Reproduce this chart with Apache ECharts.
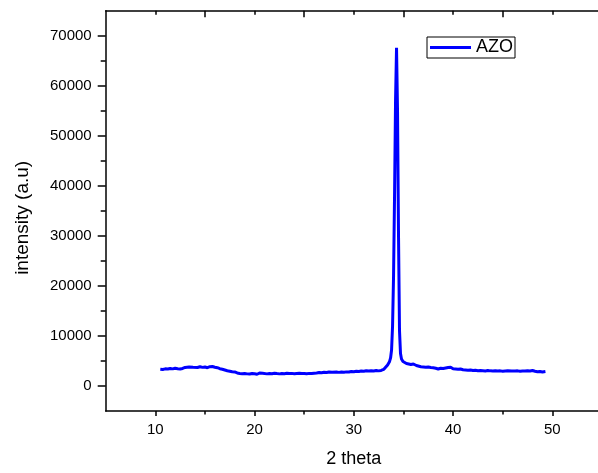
<!DOCTYPE html>
<html>
<head>
<meta charset="utf-8">
<script src="https://cdn.jsdelivr.net/npm/echarts@6/dist/echarts.min.js"></script>
<style>html,body{margin:0;padding:0;background:#fff;overflow:hidden;width:598px;height:473px;}#c{width:602px;height:473px;}</style>
</head>
<body>
<div id="c"></div>
<script>
var seriesName = 'AZO';
var twoTheta = [10.50,10.75,11.00,11.25,11.50,11.75,12.00,12.25,12.50,12.75,13.00,13.20,13.40,13.60,13.80,14.00,14.25,14.50,14.75,15.00,15.25,15.50,15.75,16.00,16.25,16.50,16.75,17.00,17.25,17.50,17.75,18.00,18.25,18.50,18.75,19.00,19.25,19.50,19.75,20.00,20.25,20.50,20.65,20.80,21.00,21.25,21.50,21.75,22.00,22.25,22.50,22.75,23.00,23.25,23.50,23.75,24.00,24.25,24.50,24.75,25.00,25.25,25.50,25.75,26.00,26.25,26.50,26.75,27.00,27.25,27.50,27.65,27.80,28.00,28.25,28.50,28.75,29.00,29.25,29.50,29.75,30.00,30.25,30.50,30.75,31.00,31.25,31.50,31.75,32.00,32.25,32.50,32.75,33.00,33.20,33.40,33.60,33.70,33.80,33.90,34.00,34.10,34.20,34.30,34.40,34.50,34.60,34.70,34.80,34.95,35.10,35.30,35.50,35.75,36.00,36.15,36.30,36.50,36.75,37.00,37.25,37.50,37.75,38.00,38.25,38.50,38.75,39.00,39.25,39.50,39.75,40.00,40.25,40.50,40.75,41.00,41.25,41.50,41.75,42.00,42.25,42.50,42.75,43.00,43.25,43.50,43.75,44.00,44.25,44.50,44.75,45.00,45.25,45.50,45.70,45.90,46.25,46.50,46.75,47.00,47.25,47.50,47.75,48.00,48.25,48.50,48.75,49.00,49.30];
var intensity = [3350,3300,3420,3380,3500,3420,3550,3450,3380,3500,3700,4050,3800,3900,3750,3820,3700,3850,3720,3800,3650,3850,3900,3750,3650,3450,3350,3200,3050,2950,2850,2800,2600,2500,2450,2500,2420,2380,2500,2450,2350,2600,2950,2550,2480,2420,2500,2450,2550,2480,2420,2500,2450,2550,2480,2520,2450,2500,2550,2480,2500,2450,2520,2480,2550,2600,2700,2650,2750,2680,2800,3050,2750,2700,2780,2720,2800,2750,2820,2780,2900,2850,2950,2900,3000,2950,3050,2980,3050,3000,3100,3020,3100,3300,3750,4200,4900,5600,7200,12000,22000,38000,57000,67600,55000,30000,11000,6500,5400,4900,4700,4500,4350,4300,4400,4600,4100,3950,3850,3800,3750,3800,3700,3650,3550,3400,3550,3500,3600,3700,3750,3450,3400,3350,3400,3250,3200,3150,3200,3100,3150,3050,3100,3050,3000,3080,3020,3000,3050,2980,3020,2950,3000,3050,3350,3000,2980,3020,2950,3000,2980,3050,3000,3100,2950,2850,2900,2800,2900];

var xMajorTicks = [10,20,30,40,50];
var xMinorTicks = [15,25,35,45];
var yMajorTicks = [0,10000,20000,30000,40000,50000,60000,70000];
var yMinorTicks = [5000,15000,25000,35000,45000,55000,65000];
var yRightTicks = [11000,27000,43000,59000];

var points = twoTheta.map(function(x, i){ return [x, intensity[i]]; });
var FONT = 'Liberation Sans, Arial, sans-serif';
var lineStyle = {color:'#000', width:1.5};
function plain(v){ return String(v); }

var chart = echarts.init(document.getElementById('c'), null, {renderer:'canvas'});
chart.setOption({
  animation:false,
  backgroundColor:'#fff',
  grid:{left:105.7, top:10.7, right:0, bottom:59, containLabel:false},
  legend:{
    data:[seriesName], left:427, top:37, orient:'horizontal',
    icon:'rect', itemWidth:41, itemHeight:3, itemGap:5,
    borderColor:'#000', borderWidth:1, padding:[1,2,1,3],
    textStyle:{fontFamily:FONT, fontSize:18, color:'#000', lineHeight:19, padding:[0,0,0,0]}
  },
  xAxis:[
    {type:'value', position:'bottom', min:5, max:55,
     name:'2 theta', nameLocation:'middle', nameGap:39,
     nameTextStyle:{fontFamily:FONT, fontSize:18, color:'#000'},
     axisLine:{show:true, onZero:false, lineStyle:lineStyle},
     axisTick:{show:true, inside:false, length:5, customValues:xMajorTicks, lineStyle:lineStyle},
     axisLabel:{show:true, customValues:xMajorTicks, formatter:plain, fontFamily:FONT, fontSize:15, color:'#000', margin:11},
     splitLine:{show:false}},
    {type:'value', position:'bottom', min:5, max:55,
     axisLine:{show:false, onZero:false},
     axisTick:{show:true, inside:false, length:3.5, customValues:xMinorTicks, lineStyle:lineStyle},
     axisLabel:{show:false}, splitLine:{show:false}},
    {type:'value', position:'top', min:5, max:55,
     axisLine:{show:true, onZero:false, lineStyle:lineStyle},
     axisTick:{show:true, inside:true, length:4, customValues:xMajorTicks, lineStyle:lineStyle},
     axisLabel:{show:false}, splitLine:{show:false}},
    {type:'value', position:'top', min:5, max:55,
     axisLine:{show:false, onZero:false},
     axisTick:{show:true, inside:true, length:6.5, customValues:xMinorTicks, lineStyle:lineStyle},
     axisLabel:{show:false}, splitLine:{show:false}}
  ],
  yAxis:[
    {type:'value', position:'left', min:-5000, max:75000,
     name:'intensity (a.u)', nameLocation:'middle', nameGap:73,
     nameTextStyle:{fontFamily:FONT, fontSize:19, color:'#000', padding:[0,14,0,0]},
     axisLine:{show:true, onZero:false, lineStyle:lineStyle},
     axisTick:{show:true, inside:false, length:8, customValues:yMajorTicks, lineStyle:lineStyle},
     axisLabel:{show:true, customValues:yMajorTicks, formatter:plain, fontFamily:FONT, fontSize:15, color:'#000', margin:14},
     splitLine:{show:false}},
    {type:'value', position:'left', min:-5000, max:75000,
     axisLine:{show:false, onZero:false},
     axisTick:{show:true, inside:false, length:5, customValues:yMinorTicks, lineStyle:lineStyle},
     axisLabel:{show:false}, splitLine:{show:false}},
    {type:'value', position:'right', min:-5000, max:75000,
     axisLine:{show:true, onZero:false, lineStyle:lineStyle},
     axisTick:{show:true, inside:true, length:4, customValues:yRightTicks, lineStyle:lineStyle},
     axisLabel:{show:false}, splitLine:{show:false}}
  ],
  series:[{
    name:seriesName, type:'line', xAxisIndex:0, yAxisIndex:0,
    data:points, showSymbol:false, symbol:'none',
    lineStyle:{color:'#0000ff', width:3}, itemStyle:{color:'#0000ff'},
    clip:true
  }]
});
</script>
</body>
</html>
